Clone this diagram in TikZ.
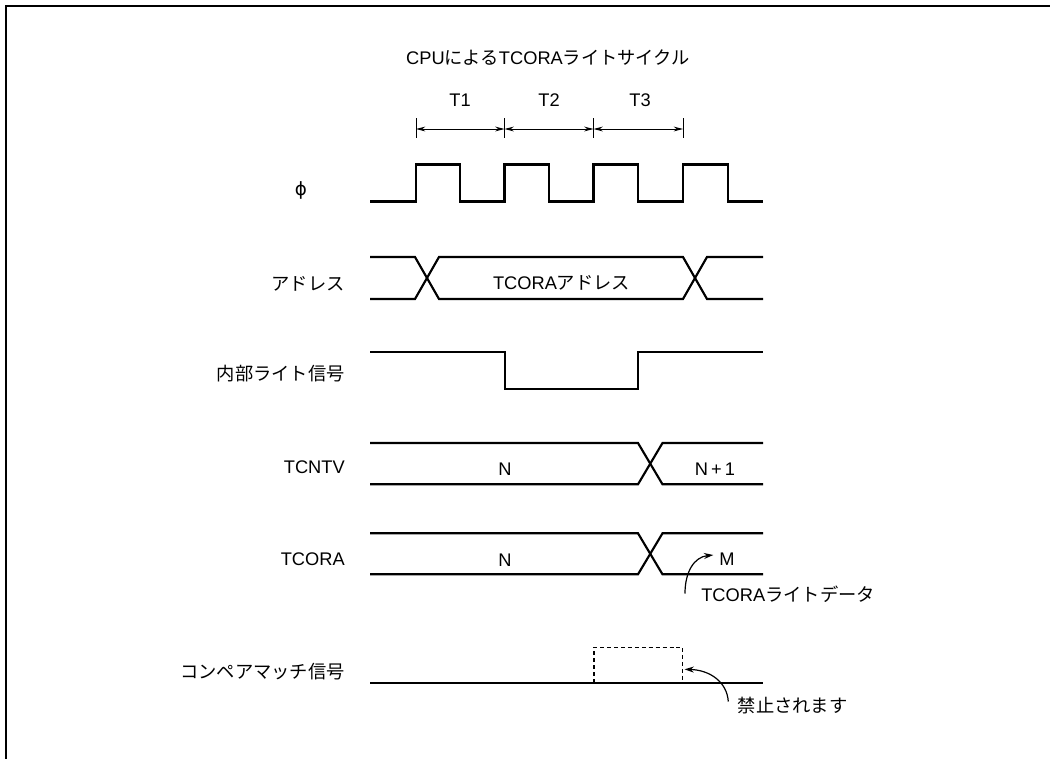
\documentclass[tikz,border=0pt]{standalone}
\usepackage{fontspec}
\setmainfont{Liberation Sans}
\newfontfamily\jp{Noto Sans CJK JP}
\newfontfamily\dvs{DejaVu Sans}
\usetikzlibrary{arrows.meta}
\newcommand\jpt[1]{{\jp #1}}
\begin{document}
\begin{tikzpicture}[x=0.75pt,y=-0.75pt,
  every node/.style={font=\fontsize{13.7pt}{16pt}\selectfont, inner sep=0pt},
  sig/.style={line width=1.6pt},
  frame/.style={line width=1.5pt},
  tick/.style={line width=0.75pt},
  dimarrow/.style={line width=0.75pt, {Stealth[length=7pt,width=3.6pt]}-{Stealth[length=7pt,width=3.6pt]}},
  notearrow/.style={line width=0.9pt, -{Stealth[length=7pt,width=4.5pt]}},
  dashbox/.style={line width=0.8pt, dash pattern=on 3pt off 2.2pt}]
\useasboundingbox (0,0) rectangle (1050,758);
\clip (0,0) rectangle (1050,758);
% frame
\draw[frame] (6,770) -- (6,6) -- (1060,6);

% title and cycle labels
\node[anchor=base] (title) at (548,64) {CPU\jpt{による}TCORA\jpt{ライトサイクル}};
\node[anchor=base] (t1) at (460,106.7) {T1};
\node[anchor=base] (t2) at (549,106.7) {T2};
\node[anchor=base] (t3) at (640,106.7) {T3};

% dimension ticks
\coordinate (d1t) at (416,118); \coordinate (d1b) at (416,138);
\coordinate (d2t) at (504.5,118); \coordinate (d2b) at (504.5,138);
\coordinate (d3t) at (593.5,118); \coordinate (d3b) at (593.5,138);
\coordinate (d4t) at (683,118); \coordinate (d4b) at (683,138);
\draw[tick] (d1t) -- (d1b);
\draw[tick] (d2t) -- (d2b);
\draw[tick] (d3t) -- (d3b);
\draw[tick] (d4t) -- (d4b);
\coordinate (a1) at (416,129); \coordinate (a2) at (504.5,129);
\coordinate (a3) at (593.5,129); \coordinate (a4) at (683,129);
\draw[dimarrow] (a1) -- (a2);
\draw[dimarrow] (a2) -- (a3);
\draw[dimarrow] (a3) -- (a4);

% signal labels
\node (lphi) at (301,190.7) {\dvs ϕ};
\node[anchor=base east] (ladr) at (345,290) {\jpt{アドレス}};
\node[anchor=base east] (lwr) at (345,380) {\jpt{内部ライト信号}};
\node[anchor=base east] (lcnt) at (345,473.3) {TCNTV};
\node[anchor=base east] (lcor) at (345,565) {TCORA};
\node[anchor=base east] (lcmp) at (345,678.5) {\jpt{コンペアマッチ信号}};

% clock
\draw[sig] (370,201.5) -- (416,201.5) -- (416,164.5) -- (460,164.5) -- (460,201.5)
  -- (504.5,201.5) -- (504.5,164.5) -- (549,164.5) -- (549,201.5)
  -- (593.5,201.5) -- (593.5,164.5) -- (638,164.5) -- (638,201.5)
  -- (683,201.5) -- (683,164.5) -- (728,164.5) -- (728,201.5) -- (763,201.5);

% address
\draw[sig] (370,257) -- (415,257) -- (439,299) -- (683,299) -- (707,257) -- (763,257);
\draw[sig] (370,299) -- (415,299) -- (439,257) -- (683,257) -- (707,299) -- (763,299);
\node[anchor=base] (vadr) at (561.5,289.5) {TCORA\jpt{アドレス}};

% internal write signal
\draw[sig] (370,352) -- (505,352) -- (505,389) -- (638,389) -- (638,352) -- (763,352);

% TCNTV
\draw[sig] (370,443) -- (638,443) -- (662.5,484.3) -- (763,484.3);
\draw[sig] (370,484.3) -- (638,484.3) -- (662.5,443) -- (763,443);
\node[anchor=base] (vcn) at (505,475) {N};
\node[anchor=base] (vcn1) at (715,475) {N\,+\,1};

% TCORA
\draw[sig] (370,533.3) -- (638,533.3) -- (662.5,574.3) -- (763,574.3);
\draw[sig] (370,574.3) -- (638,574.3) -- (662.5,533.3) -- (763,533.3);
\node[anchor=base] (vcon) at (505,566) {N};
\node[anchor=base] (vcom) at (727,565.6) {M};
\node[anchor=base west] (wdata) at (701,601.5) {TCORA\jpt{ライトデータ}};
\coordinate (wfrom) at (685,593.5);
\coordinate (wto) at (713.3,555);
\draw[notearrow] (wfrom) .. controls (685,572) and (694,557) .. (wto);

% compare match
\draw[sig] (370,682.7) -- (763,682.7);
\draw[dashbox] (594,682.7) -- (594,647.3) -- (682.7,647.3) -- (682.7,682.7);
\node[anchor=base west] (inh) at (737.5,712) {\jpt{禁止されます}};
\coordinate (ifrom) at (728.3,701.5);
\coordinate (ito) at (684.5,669.3);
\draw[notearrow] (ifrom) .. controls (727,682) and (710,670) .. (ito);
\end{tikzpicture}
\end{document}
